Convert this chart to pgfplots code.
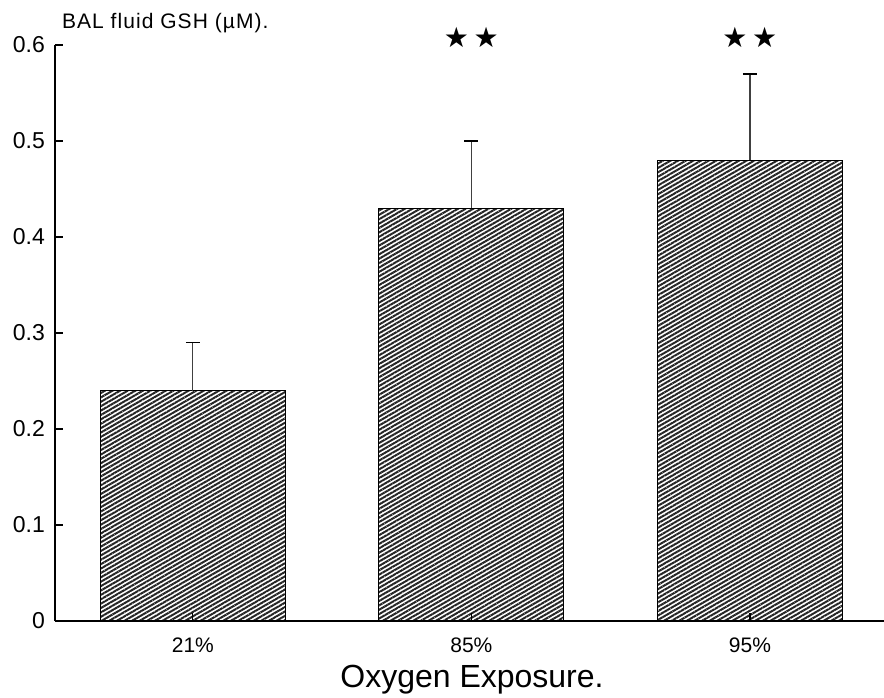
\documentclass[border=0pt]{standalone}
\usepackage{fontspec}
\setmainfont{Liberation Sans}
\newfontfamily\titlefont[LetterSpace=5]{Liberation Sans}
\newfontfamily\symfont{DejaVu Sans}
\usepackage{pgfplots}
\pgfplotsset{compat=1.18}
\usetikzlibrary{patterns.meta}

\begin{document}
\begin{tikzpicture}
\begin{axis}[
  at={(0,0)}, anchor=south west,
  scale only axis, width=414.3pt, height=288pt,
  xmin=-0.495, xmax=2.48, ymin=0, ymax=0.6,
  axis x line=bottom, axis y line=left,
  axis line style={-, line width=0.7pt},
  ybar, bar width=92.5pt,
  xtick={0,1,2}, xticklabels={21\%,85\%,95\%},
  ytick={0,0.1,0.2,0.3,0.4,0.5,0.6},
  tick align=inside, major tick length=4pt,
  tick style={black, line width=0.6pt},
  yticklabel style={font=\fontsize{11.5}{13}\selectfont, xshift=-1.5pt},
  xticklabel style={font=\fontsize{10.5}{12}\selectfont, yshift=-5pt},
  /pgf/number format/assume math mode=true,
  /pgf/number format/fixed,
  axis on top, clip=false]
  \addplot[draw=black, line width=0.6pt,
    pattern={Lines[angle=30, distance=1.9pt, line width=1pt]}, pattern color=black!85,
    error bars/.cd, y dir=plus, y explicit,
    error bar style={line width=0.6pt, black!75},
    error mark options={rotate=90, mark size=3.5pt, line width=0.8pt, black}]
    coordinates {(0,0.24) +- (0,0.05) (1,0.43) +- (0,0.07) (2,0.48) +- (0,0.09)};
  \node[font=\symfont\fontsize{14}{16}\selectfont] at (axis cs:1,0.608) {★\,★};
  \node[font=\symfont\fontsize{14}{16}\selectfont] at (axis cs:2,0.608) {★\,★};
\end{axis}
\node[anchor=base west, font=\titlefont\fontsize{10.5}{12}\selectfont] at (0pt,296pt) {BAL fluid GSH (µM).};
\node[anchor=base, font=\fontsize{16}{18}\selectfont] at (208.5pt,-33pt) {Oxygen Exposure.};
\pgfresetboundingbox
\path (-27.5pt,-38pt) rectangle (414.5pt,310.5pt);
\end{tikzpicture}
\end{document}
